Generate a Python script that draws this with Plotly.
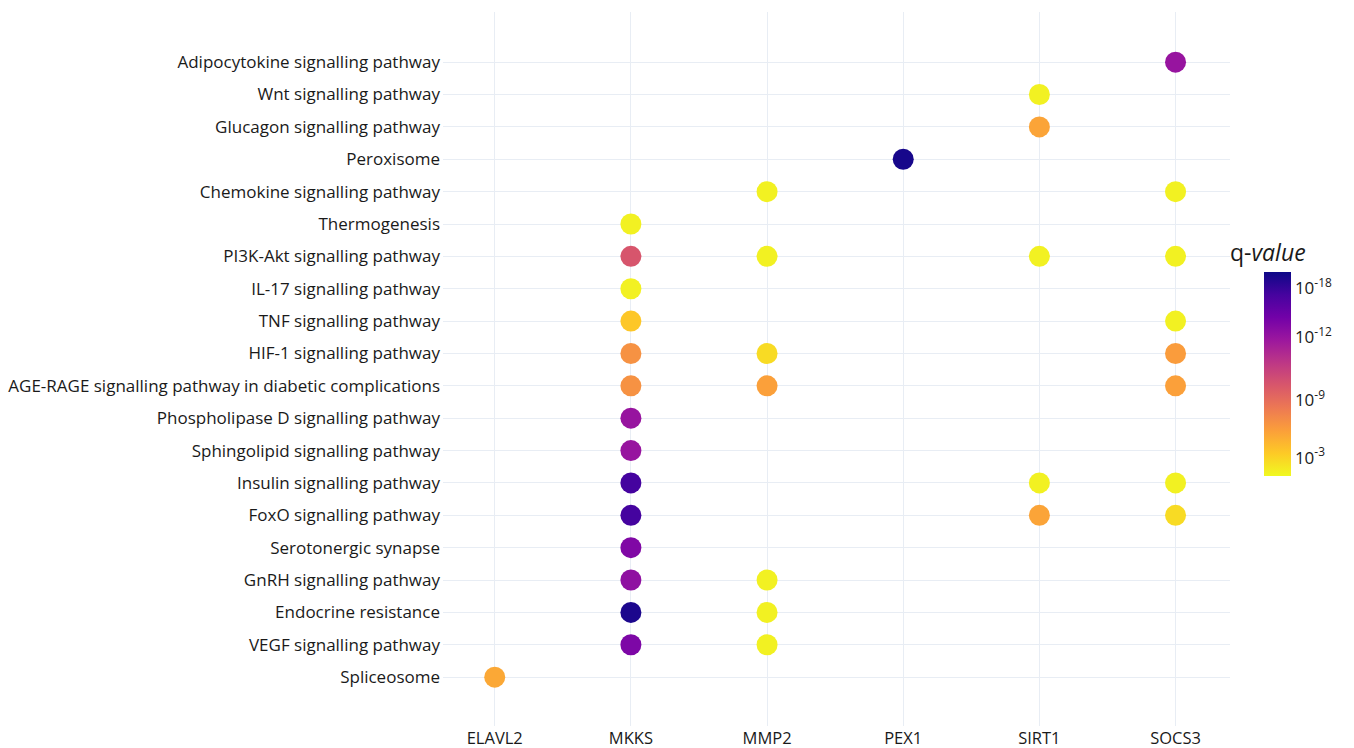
import plotly.graph_objects as go

# Pathways, listed from top to bottom of the chart
pathways = [
    "Adipocytokine signalling pathway",
    "Wnt signalling pathway",
    "Glucagon signalling pathway",
    "Peroxisome",
    "Chemokine signalling pathway",
    "Thermogenesis",
    "PI3K-Akt signalling pathway",
    "IL-17 signalling pathway",
    "TNF signalling pathway",
    "HIF-1 signalling pathway",
    "AGE-RAGE signalling pathway in diabetic complications",
    "Phospholipase D signalling pathway",
    "Sphingolipid signalling pathway",
    "Insulin signalling pathway",
    "FoxO signalling pathway",
    "Serotonergic synapse",
    "GnRH signalling pathway",
    "Endocrine resistance",
    "VEGF signalling pathway",
    "Spliceosome",
]

genes = ["ELAVL2", "MKKS", "MMP2", "PEX1", "SIRT1", "SOCS3"]

# Enriched (gene, pathway) pairs and their significance score on the colour scale
hit_genes = [
    "SOCS3",
    "SIRT1",
    "SIRT1",
    "PEX1",
    "MMP2", "SOCS3",
    "MKKS",
    "MKKS", "MMP2", "SIRT1", "SOCS3",
    "MKKS",
    "MKKS", "SOCS3",
    "MKKS", "MMP2", "SOCS3",
    "MKKS", "MMP2", "SOCS3",
    "MKKS",
    "MKKS",
    "MKKS", "SIRT1", "SOCS3",
    "MKKS", "SIRT1", "SOCS3",
    "MKKS",
    "MKKS", "MMP2",
    "MKKS", "MMP2",
    "MKKS", "MMP2",
    "ELAVL2",
]
hit_pathways = [
    "Adipocytokine signalling pathway",
    "Wnt signalling pathway",
    "Glucagon signalling pathway",
    "Peroxisome",
    "Chemokine signalling pathway", "Chemokine signalling pathway",
    "Thermogenesis",
    "PI3K-Akt signalling pathway", "PI3K-Akt signalling pathway",
    "PI3K-Akt signalling pathway", "PI3K-Akt signalling pathway",
    "IL-17 signalling pathway",
    "TNF signalling pathway", "TNF signalling pathway",
    "HIF-1 signalling pathway", "HIF-1 signalling pathway", "HIF-1 signalling pathway",
    "AGE-RAGE signalling pathway in diabetic complications",
    "AGE-RAGE signalling pathway in diabetic complications",
    "AGE-RAGE signalling pathway in diabetic complications",
    "Phospholipase D signalling pathway",
    "Sphingolipid signalling pathway",
    "Insulin signalling pathway", "Insulin signalling pathway", "Insulin signalling pathway",
    "FoxO signalling pathway", "FoxO signalling pathway", "FoxO signalling pathway",
    "Serotonergic synapse",
    "GnRH signalling pathway", "GnRH signalling pathway",
    "Endocrine resistance", "Endocrine resistance",
    "VEGF signalling pathway", "VEGF signalling pathway",
    "Spliceosome",
]
q_score = [
    0.68,
    0.02,
    0.21,
    0.98,
    0.02, 0.02,
    0.02,
    0.45, 0.02, 0.02, 0.02,
    0.02,
    0.12, 0.02,
    0.26, 0.07, 0.23,
    0.26, 0.22, 0.22,
    0.68,
    0.68,
    0.89, 0.02, 0.02,
    0.89, 0.21, 0.07,
    0.74,
    0.70, 0.02,
    0.97, 0.02,
    0.75, 0.02,
    0.20,
]

# Colour-bar tick labels
q_tick_pos = [0.922, 0.68, 0.37, 0.09]
q_tick_text = ["10<sup>-18</sup>", "10<sup>-12</sup>", "10<sup>-9</sup>", "10<sup>-3</sup>"]
colorbar_title = "q-<i>value</i>"

font_family = "Open Sans"
text_color = "#1a1a1a"

fig = go.Figure(
    go.Scatter(
        x=hit_genes,
        y=hit_pathways,
        mode="markers",
        marker=dict(
            size=21,
            color=q_score,
            colorscale="Plasma_r",
            cmin=0,
            cmax=1,
            line=dict(width=0),
            colorbar=dict(
                tickvals=q_tick_pos,
                ticktext=q_tick_text,
                tickfont=dict(size=17, family=font_family, color=text_color),
                thickness=27,
                lenmode="pixels",
                len=204,
                x=1.043,
                xanchor="left",
                xpad=0,
                y=0.493,
                yanchor="middle",
                ypad=0,
                outlinewidth=0,
                ticks="",
            ),
        ),
        showlegend=False,
    )
)

# Colour-bar heading, placed slightly left of the bar
fig.add_annotation(
    text=colorbar_title,
    xref="paper", yref="paper",
    x=0.9975, y=0.664,
    xanchor="left", yanchor="middle",
    showarrow=False,
    font=dict(size=23, family=font_family, color=text_color),
)

fig.update_layout(
    template="plotly_white",
    width=1354,
    height=748,
    margin=dict(l=443, r=124, t=12, b=22),
    font=dict(family=font_family, size=17, color=text_color),
    plot_bgcolor="white",
    paper_bgcolor="white",
)

fig.update_xaxes(
    type="category",
    categoryorder="array",
    categoryarray=genes,
    range=[-0.38, 5.40],
    showgrid=True,
    gridcolor="#e8edf4",
    zeroline=False,
    showline=False,
    tickfont=dict(size=16.5, family=font_family, color=text_color),
    automargin=False,
)

fig.update_yaxes(
    type="category",
    categoryorder="array",
    categoryarray=pathways,
    range=[20.51, -1.55],
    showgrid=True,
    gridcolor="#e8edf4",
    zeroline=False,
    showline=False,
    ticklabelstandoff=2,
    tickfont=dict(size=17, family=font_family, color=text_color),
    automargin=False,
)

fig.write_html("out.html")
